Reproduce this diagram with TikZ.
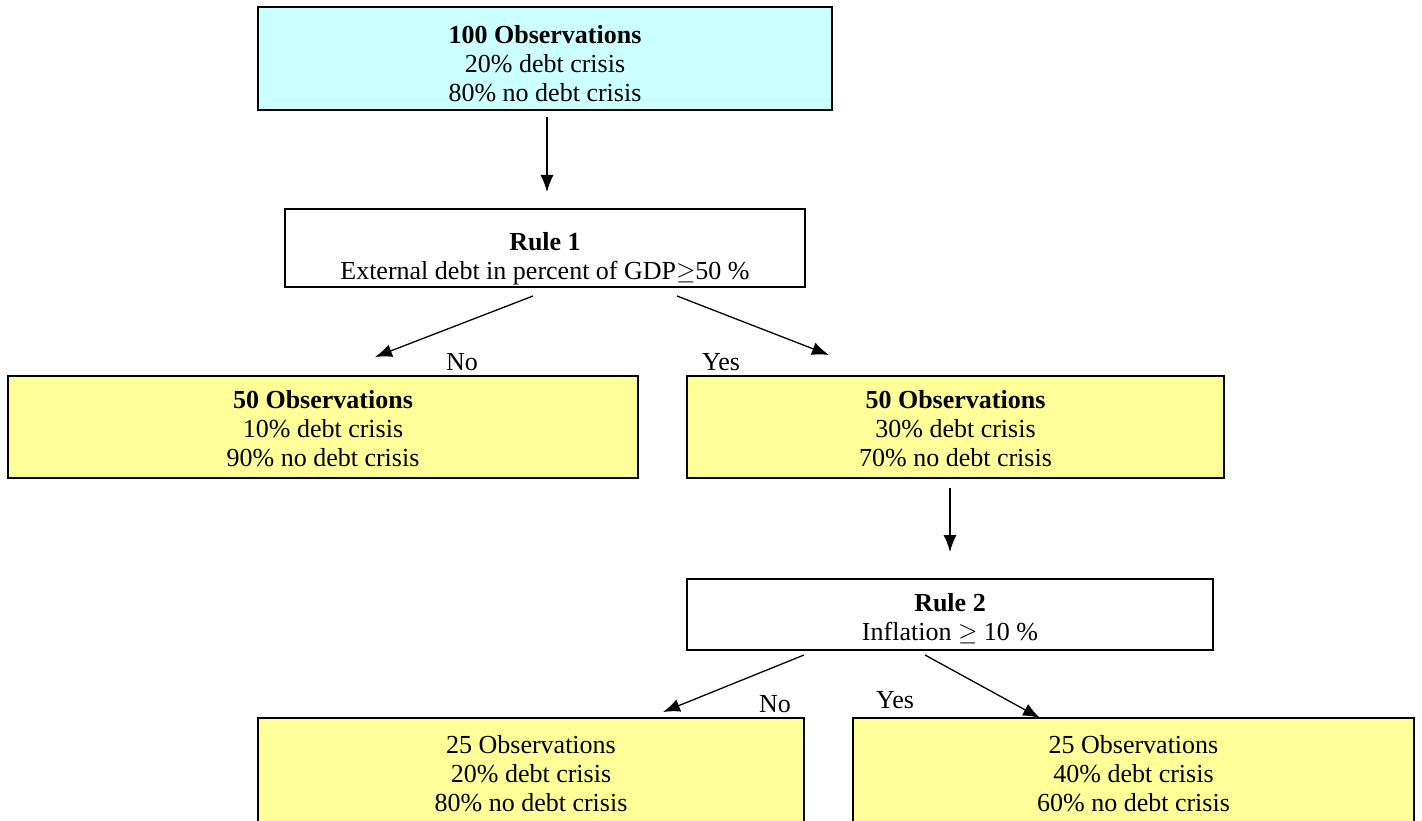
\documentclass[tikz,border=0pt]{standalone}
\usepackage{fontspec}
\setmainfont{Liberation Serif}
\usetikzlibrary{arrows.meta}
\definecolor{cyanbg}{HTML}{CCFFFF}
\definecolor{yellowbg}{HTML}{FFFF99}
\begin{document}
\begin{tikzpicture}[x=1pt,y=-1pt,
  box/.style={draw, line width=1.8pt, inner sep=0pt},
  txt/.style={anchor=base, inner sep=0pt, font=\fontsize{26}{29}\selectfont},
  arr/.style={line width=1.3pt, -{Latex[length=17pt,width=13pt]}},
  lbl/.style={anchor=base, font=\fontsize{26}{29}\selectfont, inner sep=0pt}]
\useasboundingbox (0,0) rectangle (1422,821);

% boxes
\node[box, fill=cyanbg, minimum width=574pt, minimum height=103pt] (top) at (545,58.5) {};
\node[box, fill=white, minimum width=520pt, minimum height=78pt] (rule1) at (545,248) {};
\node[box, fill=yellowbg, minimum width=630pt, minimum height=102pt] (left) at (323,427) {};
\node[box, fill=yellowbg, minimum width=537pt, minimum height=102pt] (right) at (955.5,427) {};
\node[box, fill=white, minimum width=526pt, minimum height=71pt] (rule2) at (950,614.5) {};
\node[box, fill=yellowbg, minimum width=546pt, minimum height=110pt] (bl) at (531,773) {};
\node[box, fill=yellowbg, minimum width=561pt, minimum height=110pt] (br) at (1133.5,773) {};

% texts
\node[txt] (ttop) at (545,43.5) {\begin{tabular}[t]{@{}c@{}}\textbf{100 Observations}\\20\% debt crisis\\80\% no debt crisis\end{tabular}};
\node[txt] (trule1) at (545,250.5) {\begin{tabular}[t]{@{}c@{}}\textbf{Rule 1}\\External debt in percent of GDP$\geq$50 \%\end{tabular}};
\node[txt] (tleft) at (323,408.5) {\begin{tabular}[t]{@{}c@{}}\textbf{50 Observations}\\10\% debt crisis\\90\% no debt crisis\end{tabular}};
\node[txt] (tright) at (955.5,408.5) {\begin{tabular}[t]{@{}c@{}}\textbf{50 Observations}\\30\% debt crisis\\70\% no debt crisis\end{tabular}};
\node[txt] (trule2) at (950,611) {\begin{tabular}[t]{@{}c@{}}\textbf{Rule 2}\\Inflation $\geq$ 10 \%\end{tabular}};
\node[txt] (tbl) at (531,753) {\begin{tabular}[t]{@{}c@{}}25 Observations\\20\% debt crisis\\80\% no debt crisis\end{tabular}};
\node[txt] (tbr) at (1133.5,753) {\begin{tabular}[t]{@{}c@{}}25 Observations\\40\% debt crisis\\60\% no debt crisis\end{tabular}};

% branch labels
\node[lbl] (no1) at (462,370) {No};
\node[lbl] (yes1) at (721,370) {Yes};
\node[lbl] (no2) at (775,712) {No};
\node[lbl] (yes2) at (895,708) {Yes};

% arrow end points
\coordinate (v1s) at (547,117);
\coordinate (v1e) at (547,192);
\coordinate (a1s) at (533,296);
\coordinate (a1e) at (375,357);
\coordinate (a2s) at (677,296);
\coordinate (a2e) at (829,355);
\coordinate (v2s) at (950,488);
\coordinate (v2e) at (950,552);
\coordinate (a3s) at (804,655);
\coordinate (a3e) at (663,712);
\coordinate (a4s) at (925,655);
\coordinate (a4e) at (1040,718);

\draw[arr] (v1s) -- (v1e);
\draw[arr] (a1s) -- (a1e);
\draw[arr] (a2s) -- (a2e);
\draw[arr] (v2s) -- (v2e);
\draw[arr] (a3s) -- (a3e);
\draw[arr] (a4s) -- (a4e);
\end{tikzpicture}
\end{document}
